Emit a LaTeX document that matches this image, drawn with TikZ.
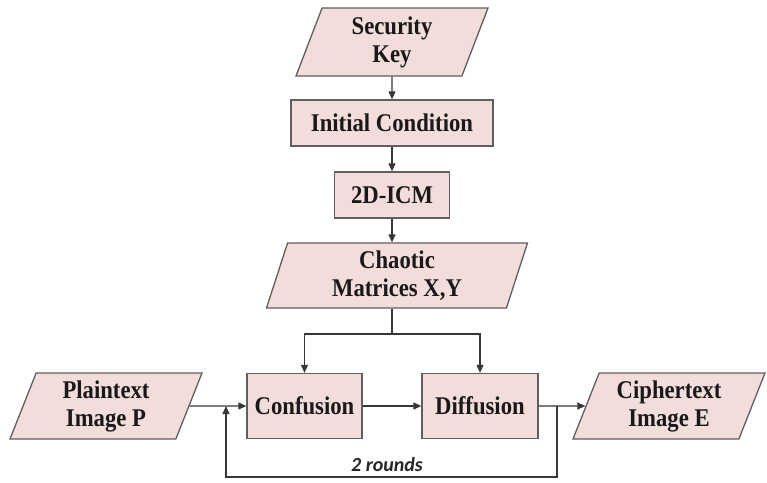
\documentclass[tikz,border=0pt]{standalone}
\usepackage{fontspec}
\setmainfont{Liberation Serif}[FakeStretch=0.89]
\newfontfamily\labelfont{Carlito}
\usetikzlibrary{shapes.geometric,arrows.meta}
\definecolor{boxfill}{RGB}{242,221,219}
\definecolor{boxline}{RGB}{95,95,95}
\definecolor{connc}{RGB}{55,55,55}
\begin{document}
\begin{tikzpicture}[x=1pt,y=-1pt,
  box/.style={draw=boxline, fill=boxfill, line width=1.3pt, rectangle, inner sep=0pt,
    font=\fontsize{25.5}{28}\selectfont\bfseries, align=center, text=black!90},
  para/.style={box, trapezium, trapezium stretches body},
  connline/.style={draw=connc, line width=1.2pt},
  arr/.style={connline, -{Triangle[length=8pt,width=7pt]}}]
\useasboundingbox (0,0) rectangle (767,482);

\node[para, trapezium left angle=63, trapezium right angle=117,
  minimum width=192pt, minimum height=68pt] (key) at (392,42) {Security\\Key};
\node[box, minimum width=202pt, minimum height=46pt] (init) at (392,123) {Initial Condition};
\node[box, minimum width=115pt, minimum height=46pt] (icm) at (392,195) {2D-ICM};
\node[para, trapezium left angle=67, trapezium right angle=113,
  minimum width=261pt, minimum height=65pt] (chaos) at (397,275.5) {Chaotic\\Matrices X,Y};

\node[para, trapezium left angle=63, trapezium right angle=117,
  minimum width=192pt, minimum height=66pt] (plain) at (106,406) {Plaintext\\Image P};
\node[box, minimum width=115pt, minimum height=65pt] (conf) at (304.5,406) {Confusion};
\node[box, minimum width=116pt, minimum height=65pt] (diff) at (480,406) {Diffusion};
\node[para, trapezium left angle=63, trapezium right angle=117,
  minimum width=192pt, minimum height=66pt] (cipher) at (669,406) {Ciphertext\\Image E};

\node[font=\labelfont\bfseries\itshape\fontsize{20}{22}\selectfont, text=black!85] (rounds) at (387,465) {2 rounds};

\coordinate (split) at (392,334);
\coordinate (loopR) at (557,477);
\coordinate (loopL) at (226,406);

\draw[arr] (key) -- (init);
\draw[arr] (init) -- (icm);
\draw[arr] (icm) -- (icm.south |- chaos.north);
\draw[connline] (icm.south |- chaos.south) -- (split);
\draw[arr] (split) -| (conf);
\draw[arr] (split) -| (diff);
\draw[arr] (plain) -- (conf);
\draw[arr] (conf) -- (diff);
\draw[arr] (diff) -- (cipher);
\draw[arr] (diff.east -| loopR) -- (loopR) -| (loopL);
\end{tikzpicture}
\end{document}
